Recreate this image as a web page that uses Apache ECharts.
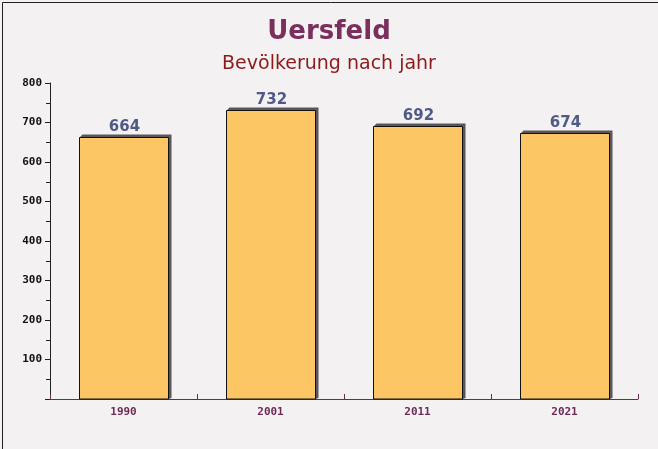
<!DOCTYPE html>
<html><head><meta charset="utf-8">
<script src="https://cdn.jsdelivr.net/npm/echarts@6/dist/echarts.min.js"></script>
<style>html,body{margin:0;padding:0;background:#f4f1f3}#c{width:658px;height:449px}</style>
</head><body><div id="c"></div>
<script>
const categories = ['1990', '2001', '2011', '2021'];
const population = [664, 732, 692, 674];
const yTicks = [0, 100, 200, 300, 400, 500, 600, 700, 800];

const chart = echarts.init(document.getElementById('c'), null, {renderer: 'canvas'});
const data = population.map((v, i) => [i, v]);

chart.setOption({
  backgroundColor: '#f4f1f3',
  animation: false,
  title: [
    {text: 'Uersfeld', left: 'center', top: 14,
     textStyle: {fontFamily: 'DejaVu Sans', fontWeight: 'bold', fontSize: 26, color: '#7a2f5c'}},
    {text: 'Bevölkerung nach jahr', left: 'center', top: 50,
     textStyle: {fontFamily: 'DejaVu Sans', fontWeight: 'normal', fontSize: 19, color: '#8b1a1a'}}
  ],
  graphic: [{type: 'rect', left: 0, top: 0, shape: {width: 657, height: 448},
             style: {fill: null, stroke: '#222', lineWidth: 1}, silent: true, z: 100}],
  grid: {left: 50, right: 20, top: 83, bottom: 50},
  xAxis: {
    type: 'category', data: categories,
    axisLine: {lineStyle: {color: '#6e2a55', width: 1}},
    axisTick: {show: true, inside: true, length: 5, lineStyle: {color: '#6e2a55'}},
    axisLabel: {fontFamily: 'DejaVu Sans Mono', fontWeight: 'bold', fontSize: 11, color: '#6e2a55', margin: 8},
    splitLine: {show: false}
  },
  yAxis: {
    type: 'value', min: yTicks[0], max: yTicks[yTicks.length - 1], interval: 100,
    axisLine: {show: true, lineStyle: {color: '#222', width: 1}},
    axisTick: {show: true, length: 5, lineStyle: {color: '#222'}},
    minorTick: {show: true, splitNumber: 2, length: 4, lineStyle: {color: '#222'}},
    axisLabel: {fontFamily: 'DejaVu Sans Mono', fontWeight: 'bold', fontSize: 11, color: '#111', margin: 8,
                formatter: v => v === 0 ? '' : String(v)},
    splitLine: {show: false}
  },
  series: [{
    type: 'custom',
    data: data,
    encode: {x: 0, y: 1},
    renderItem: function (params, api) {
      const idx = api.value(0), val = api.value(1);
      const top = api.coord([idx, val]);
      const base = api.coord([idx, 0]);
      const w = api.size([1, 0])[0] * 0.6;
      const x1 = Math.round(top[0] - w / 2) + 0.5, x2 = Math.round(top[0] + w / 2) + 0.5;
      const yT = Math.round(top[1]) + 0.5, yB = base[1];
      const d = 3;
      return {
        type: 'group',
        children: [
          {type: 'polygon', shape: {points: [[x1, yT], [x1 + d, yT - d], [x2 + d, yT - d], [x2 + d, yB - 1], [x2, yB], [x2, yT]]},
           style: {fill: '#5a5558'}},
          {type: 'rect', shape: {x: x1, y: yT, width: x2 - x1, height: yB - yT},
           style: {fill: 'rgba(255,186,60,0.78)', stroke: '#111', lineWidth: 1}},
          {type: 'text', style: {text: String(val), x: top[0] + 1, y: yT - 3, align: 'center', verticalAlign: 'bottom',
             font: 'bold 15px "DejaVu Sans"', fill: '#4f5a86'}}
        ]
      };
    }
  }]
});
</script></body></html>
